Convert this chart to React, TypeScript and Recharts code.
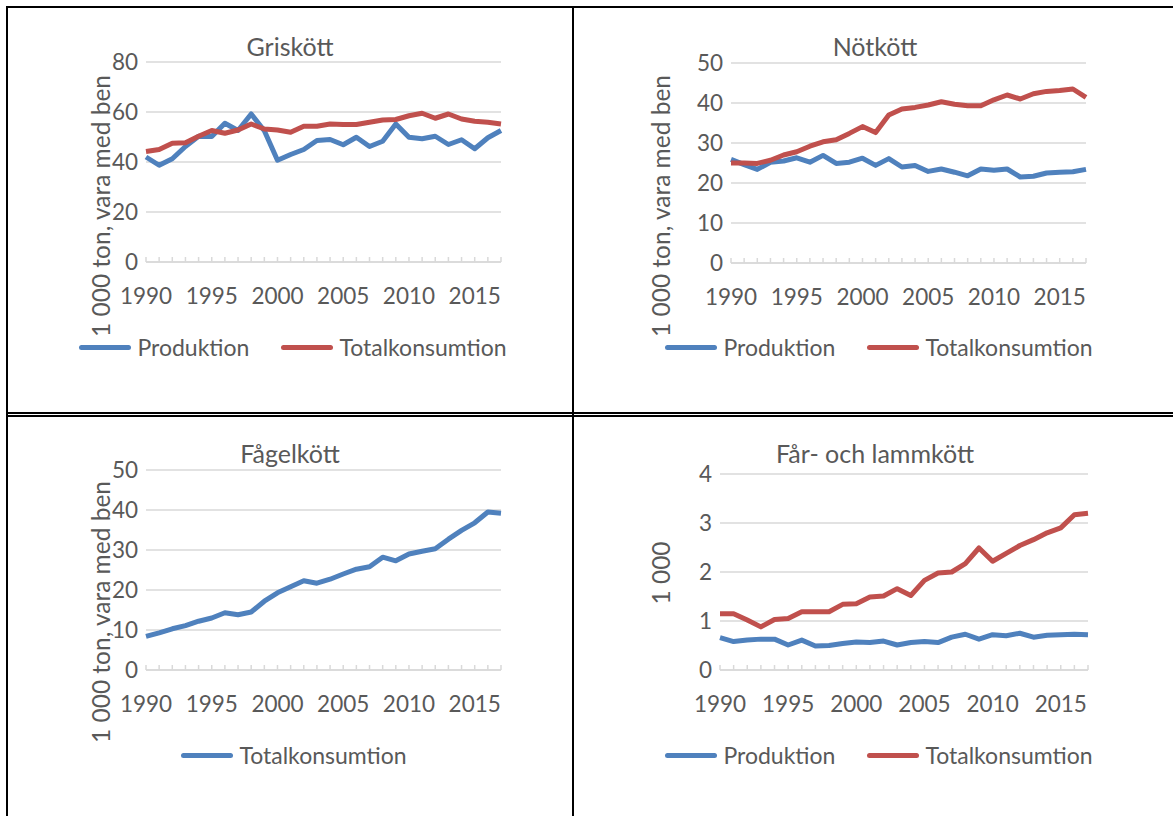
import { LineChart, Line, XAxis, YAxis, CartesianGrid, Legend } from 'recharts';

const years = [
  1990, 1991, 1992, 1993, 1994, 1995, 1996, 1997, 1998, 1999,
  2000, 2001, 2002, 2003, 2004, 2005, 2006, 2007, 2008, 2009,
  2010, 2011, 2012, 2013, 2014, 2015, 2016, 2017,
];

// Griskött
const grisProduktion = [
  42.0, 38.7, 41.3, 46.2, 50.3, 50.2, 55.5, 52.6, 59.2, 52.5,
  40.7, 43.0, 45.0, 48.6, 49.0, 46.9, 49.9, 46.2, 48.3, 55.2,
  49.9, 49.3, 50.3, 47.0, 48.9, 45.3, 49.7, 52.6,
];
const grisKonsumtion = [
  44.2, 45.0, 47.5, 47.7, 50.3, 52.6, 51.5, 52.8, 55.2, 53.2,
  52.8, 51.9, 54.3, 54.3, 55.2, 55.0, 55.0, 55.9, 56.8, 57.0,
  58.5, 59.5, 57.5, 59.2, 57.2, 56.3, 55.9, 55.2,
];

// Nötkött
const notProduktion = [
  25.9, 24.6, 23.4, 25.2, 25.5, 26.3, 25.2, 26.9, 24.9, 25.2,
  26.2, 24.4, 26.1, 24.0, 24.4, 22.9, 23.5, 22.7, 21.8, 23.5,
  23.2, 23.5, 21.5, 21.7, 22.5, 22.7, 22.8, 23.4,
];
const notKonsumtion = [
  25.0, 25.0, 24.9, 25.7, 27.0, 27.8, 29.2, 30.3, 30.8, 32.4,
  34.1, 32.6, 37.0, 38.5, 38.9, 39.5, 40.3, 39.7, 39.3, 39.3,
  40.8, 42.0, 41.0, 42.3, 42.9, 43.1, 43.5, 41.4,
];

// Fågelkött
const fagelKonsumtion = [
  8.4, 9.3, 10.3, 11.1, 12.2, 13.0, 14.3, 13.8, 14.5, 17.2,
  19.3, 20.8, 22.3, 21.7, 22.7, 24.0, 25.2, 25.8, 28.2, 27.3,
  29.0, 29.7, 30.3, 32.7, 34.9, 36.8, 39.5, 39.2,
];

// Får- och lammkött
const farProduktion = [
  0.66, 0.58, 0.61, 0.63, 0.63, 0.51, 0.61, 0.49, 0.50, 0.54,
  0.57, 0.56, 0.59, 0.51, 0.56, 0.58, 0.56, 0.67, 0.73, 0.63,
  0.72, 0.70, 0.75, 0.67, 0.71, 0.72, 0.73, 0.72,
];
const farKonsumtion = [
  1.15, 1.15, 1.02, 0.88, 1.03, 1.05, 1.19, 1.19, 1.19, 1.34,
  1.35, 1.49, 1.51, 1.66, 1.52, 1.83, 1.98, 2.00, 2.17, 2.49,
  2.22, 2.38, 2.54, 2.66, 2.80, 2.90, 3.17, 3.20,
];

const grisTicks = [0, 20, 40, 60, 80];
const notTicks = [0, 10, 20, 30, 40, 50];
const fagelTicks = [0, 10, 20, 30, 40, 50];
const farTicks = [0, 1, 2, 3, 4];

const BLUE = '#4f81bd';
const RED = '#c0504d';
const TEXT = '#595959';
const GRID = '#d9d9d9';
const FONT = 'Lato, "Open Sans", sans-serif';
const TICK_FS = 22.5;
const LEGEND_FS = 23;
const TITLE_FS = 25;
const YTITLE_FS = 24.5;
const W = 560;
const H = 400;
const LEGEND_H = 26;
const LEGEND_BOTTOM = 50;

type Series = { key: string; name: string; color: string; values: number[] };

type PanelProps = {
  left: number;
  top: number;
  title: string;
  titleX: number;
  titleY: number;
  yTitle: string;
  yTitleX: number;
  yTitleY: number;
  ticks: number[];
  series: Series[];
  plotLeft: number;
  plotTop: number;
  plotRight: number;
  plotBottom: number;
  legendShift: number;
};

const YearTick = (props: any) => {
  const { x, y, payload } = props;
  if (payload.value % 5 !== 0) return <g />;
  return (
    <text x={x} y={y + 47} textAnchor="middle" fill={TEXT} fontSize={TICK_FS} fontFamily={FONT}>
      {payload.value}
    </text>
  );
};

const makeLegend = (shift: number) => (props: any) => {
  const { payload } = props;
  return (
    <div
      style={{
        display: 'flex',
        justifyContent: 'center',
        alignItems: 'center',
        height: LEGEND_H,
        transform: `translateX(${shift}px)`,
        fontFamily: FONT,
        fontSize: LEGEND_FS,
        color: TEXT,
        whiteSpace: 'nowrap',
      }}
    >
      {payload.map((entry: any, i: number) => (
        <div key={i} style={{ display: 'flex', alignItems: 'center', marginLeft: i ? 32 : 0 }}>
          <div style={{ width: 52, height: 5, borderRadius: 3, background: entry.color, marginRight: 6 }} />
          <span>{entry.value}</span>
        </div>
      ))}
    </div>
  );
};

const Panel = (p: PanelProps) => {
  const data = years.map((year, i) => {
    const row: any = { year };
    p.series.forEach((s) => {
      row[s.key] = s.values[i];
    });
    return row;
  });
  const xAxisHeight = H - LEGEND_BOTTOM - LEGEND_H - p.plotBottom;
  const max = p.ticks[p.ticks.length - 1];

  return (
    <div style={{ position: 'absolute', left: p.left, top: p.top, width: W, height: H }}>
      <div
        style={{
          position: 'absolute',
          left: p.titleX - 200,
          width: 400,
          top: p.titleY - 16,
          height: 32,
          lineHeight: '32px',
          textAlign: 'center',
          fontFamily: FONT,
          fontSize: TITLE_FS,
          color: TEXT,
          zIndex: 2,
        }}
      >
        {p.title}
      </div>
      <LineChart
        width={W}
        height={H}
        data={data}
        margin={{ top: p.plotTop, right: W - p.plotRight, bottom: LEGEND_BOTTOM, left: 0 }}
      >
        <CartesianGrid vertical={false} stroke={GRID} strokeWidth={1.5} />
        <XAxis
          dataKey="year"
          interval={0}
          height={xAxisHeight}
          tick={YearTick}
          tickSize={-5}
          tickMargin={0}
          axisLine={{ stroke: GRID, strokeWidth: 1.5 }}
          tickLine={{ stroke: GRID, strokeWidth: 1.5 }}
        />
        <YAxis
          width={p.plotLeft}
          domain={[0, max]}
          ticks={p.ticks}
          interval={0}
          axisLine={false}
          tickLine={false}
          tick={{ fill: TEXT, fontSize: TICK_FS, fontFamily: FONT }}
          label={() => (
            <text
              x={p.yTitleX}
              y={p.yTitleY}
              transform={`rotate(-90 ${p.yTitleX} ${p.yTitleY})`}
              textAnchor="middle"
              dominantBaseline="central"
              fill={TEXT}
              fontSize={YTITLE_FS}
              fontFamily={FONT}
            >
              {p.yTitle}
            </text>
          )}
        />
        <Legend
          verticalAlign="bottom"
          content={makeLegend(p.legendShift)}
          wrapperStyle={{ left: 0, width: W, height: LEGEND_H }}
        />
        {p.series.map((s) => (
          <Line
            key={s.key}
            type="linear"
            dataKey={s.key}
            name={s.name}
            stroke={s.color}
            strokeWidth={5}
            strokeLinejoin="round"
            dot={false}
            activeDot={false}
            isAnimationActive={false}
          />
        ))}
      </LineChart>
    </div>
  );
};

const Rule = ({ left, top, width, height }: { left: number; top: number; width: number; height: number }) => (
  <div style={{ position: 'absolute', left, top, width, height, background: '#000' }} />
);

export default function App() {
  return (
    <div style={{ position: 'absolute', left: 0, top: 0, width: 1173, height: 816, background: '#fff', overflow: 'hidden' }}>
      <Rule left={6} top={6} width={1167} height={2} />
      <Rule left={6} top={6} width={2} height={810} />
      <Rule left={572} top={6} width={2} height={810} />
      <Rule left={6} top={412} width={1167} height={2} />
      <Rule left={6} top={415} width={1167} height={2} />

      <Panel
        left={10}
        top={10}
        title="Griskött"
        titleX={280}
        titleY={36}
        yTitle="1 000 ton, vara med ben"
        yTitleX={90}
        yTitleY={196}
        ticks={grisTicks}
        series={[
          { key: 'prod', name: 'Produktion', color: BLUE, values: grisProduktion },
          { key: 'kons', name: 'Totalkonsumtion', color: RED, values: grisKonsumtion },
        ]}
        plotLeft={136}
        plotTop={52}
        plotRight={491}
        plotBottom={252}
        legendShift={3}
      />
      <Panel
        left={575}
        top={10}
        title="Nötkött"
        titleX={300}
        titleY={36}
        yTitle="1 000 ton, vara med ben"
        yTitleX={85}
        yTitleY={196}
        ticks={notTicks}
        series={[
          { key: 'prod', name: 'Produktion', color: BLUE, values: notProduktion },
          { key: 'kons', name: 'Totalkonsumtion', color: RED, values: notKonsumtion },
        ]}
        plotLeft={156}
        plotTop={53}
        plotRight={511}
        plotBottom={253}
        legendShift={24}
      />
      <Panel
        left={10}
        top={418}
        title="Fågelkött"
        titleX={280}
        titleY={35}
        yTitle="1 000 ton, vara med ben"
        yTitleX={90}
        yTitleY={194}
        ticks={fagelTicks}
        series={[{ key: 'kons', name: 'Totalkonsumtion', color: BLUE, values: fagelKonsumtion }]}
        plotLeft={136}
        plotTop={52}
        plotRight={491}
        plotBottom={252}
        legendShift={4}
      />
      <Panel
        left={575}
        top={418}
        title="Får- och lammkött"
        titleX={300}
        titleY={35}
        yTitle="1 000"
        yTitleX={85}
        yTitleY={155}
        ticks={farTicks}
        series={[
          { key: 'prod', name: 'Produktion', color: BLUE, values: farProduktion },
          { key: 'kons', name: 'Totalkonsumtion', color: RED, values: farKonsumtion },
        ]}
        plotLeft={145}
        plotTop={56}
        plotRight={513}
        plotBottom={252}
        legendShift={24}
      />
    </div>
  );
}
